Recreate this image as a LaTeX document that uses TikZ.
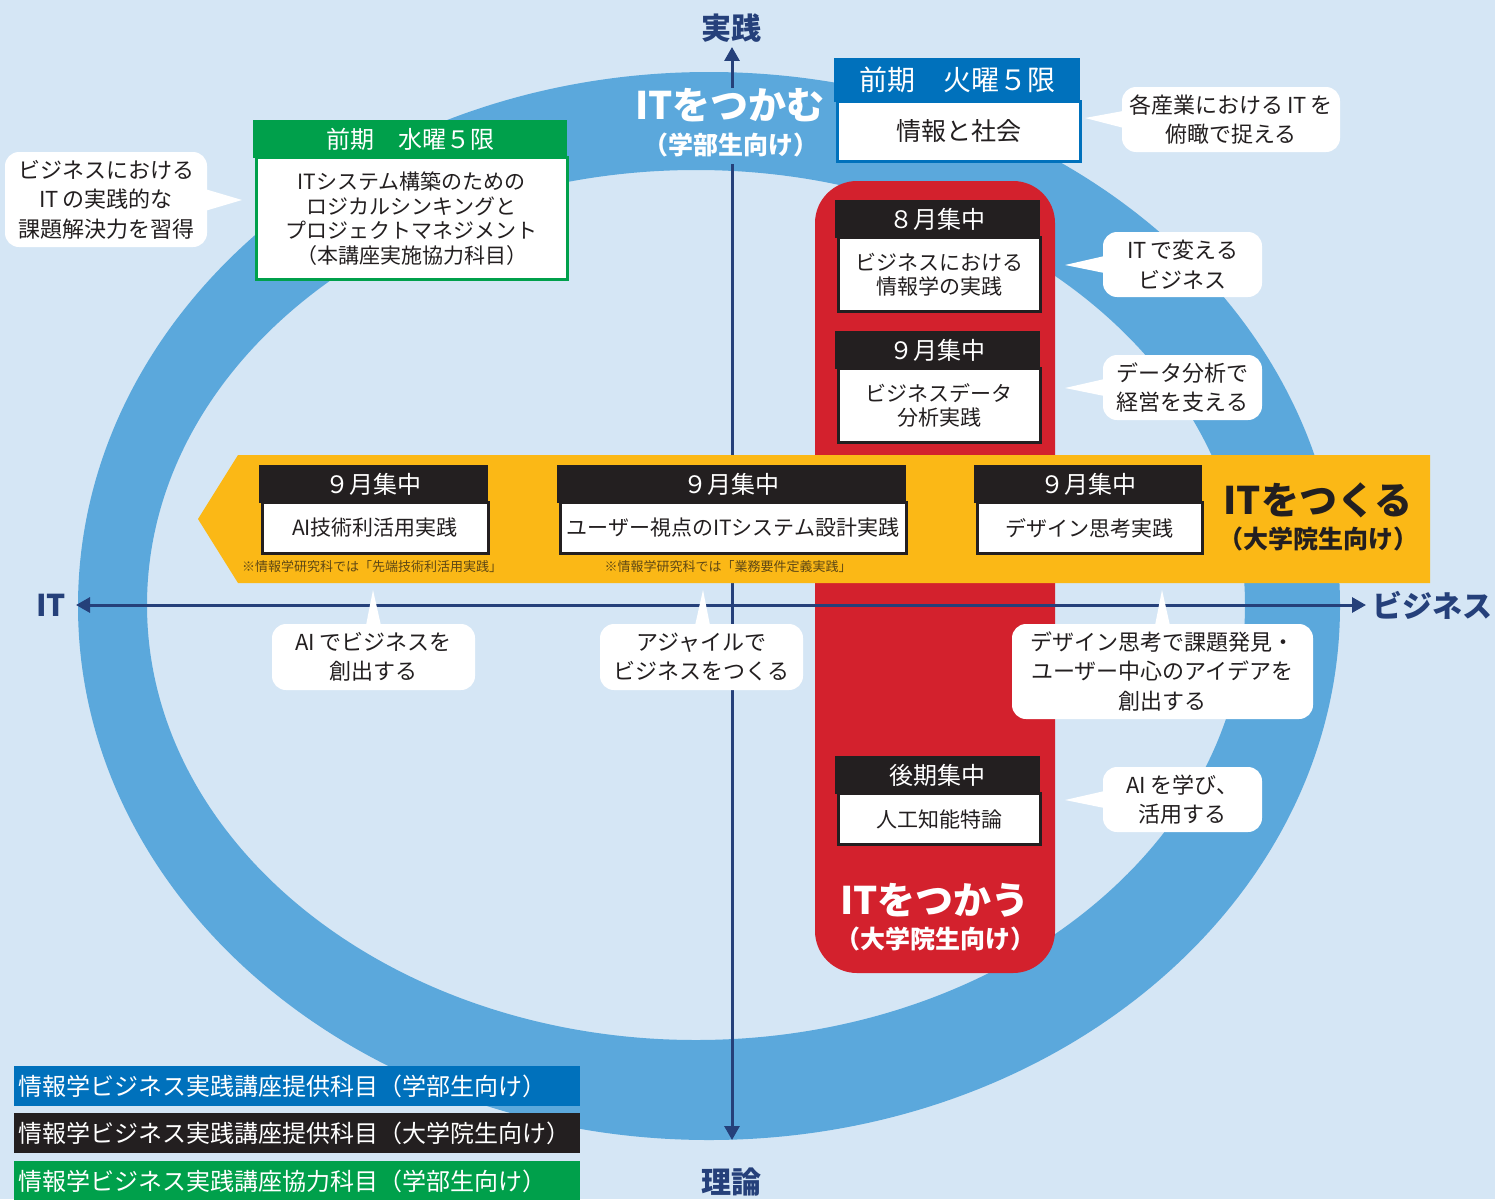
\documentclass[tikz,border=0pt]{standalone}
\usepackage{fontspec}
\setmainfont{Noto Sans CJK JP}
\usetikzlibrary{calc,arrows.meta}
\definecolor{bgc}{RGB}{213,230,245}
\definecolor{ringc}{RGB}{91,168,220}
\definecolor{navy}{RGB}{37,64,122}
\definecolor{redc}{RGB}{211,33,45}
\definecolor{yel}{RGB}{251,184,22}
\definecolor{blk}{RGB}{35,31,32}
\definecolor{grn}{RGB}{0,160,75}
\definecolor{blu}{RGB}{0,113,188}
\definecolor{notec}{RGB}{95,72,20}
\newcommand{\jfs}[2]{\fontsize{#1}{#2}\selectfont}
\newcommand{\gp}{\hspace{4pt}}
\tikzset{
  axisline/.style={navy, line width=3pt, {Triangle[length=14pt,width=15pt]}-{Triangle[length=14pt,width=15pt]}},
  axlabel/.style={navy, font=\jfs{30}{34}\bfseries, inner sep=0pt},
  hdr/.style={fill=#1, text=white, inner sep=0pt, font=\jfs{24}{28}},
  bodybox/.style={fill=white, draw=#1, line width=3pt, text=blk, inner sep=0pt, align=center, font=\jfs{21}{24.5}},
  callout/.style={fill=white, rounded corners=14pt, text=blk, inner sep=0pt, align=center, font=\jfs{22}{29.5}},
  ptr/.style={fill=white},
  bigw/.style={text=white, font=\jfs{38}{40}\bfseries, inner sep=0pt},
  subw/.style={text=white, font=\jfs{25}{28}\bfseries, inner sep=0pt},
  note/.style={text=notec, font=\jfs{13}{15}, inner sep=0pt},
  legend/.style={fill=#1, text=white, inner sep=4pt, text width=558pt, align=left, minimum height=40pt, anchor=west, font=\jfs{24}{26}}
}
\begin{document}
\begin{tikzpicture}[x=1pt,y=-1pt]
\useasboundingbox (0,0) rectangle (1495,1199);
\fill[bgc] (0,0) rectangle (1495,1199);
% ring
\fill[ringc, even odd rule] (709,606) ellipse [x radius=631, y radius=534] (696,605) ellipse [x radius=549, y radius=435];
% red bar
\fill[redc, rounded corners=42pt] (815,181) rectangle (1055,973);
% axes
\coordinate (vtop) at (732,47);
\coordinate (vbot) at (732,1140);
\coordinate (hleft) at (76,605);
\coordinate (hright) at (1366,605);
\draw[axisline] (vtop) -- (vbot);
\draw[axisline] (hleft) -- (hright);
\node[axlabel] (jissen) at (731,28) {実践};
\node[axlabel] (riron) at (731,1182) {理論};
\node[axlabel] (itlab) at (51,605) {IT};
\node[axlabel] (bizlab) at (1432,605) {ビジネス};
% IT tsukamu label on ring
\node[fill=ringc, inner sep=3pt, minimum width=186pt, minimum height=76pt] (tsukamubg) at (730,126) {};
\node[bigw] (tsukamu) at (730,105) {ITをつかむ};
\node[subw] (tsukamusub) at (731,145) {（学部生向け）};
% yellow band
\fill[yel] (238,455) -- (1430,455) -- (1430,583) -- (238,583) -- (198,519) -- cycle;
\node[note] (note1) at (372,567) {※情報学研究科では「先端技術利活用実践」};
\node[note] (note2) at (728,567) {※情報学研究科では「業務要件定義実践」};
\node[text=blk, font=\jfs{38}{40}\bfseries, inner sep=0pt] (tsukuru) at (1318,500) {ITをつくる};
\node[text=blk, font=\jfs{25}{28}\bfseries, inner sep=0pt] (tsukurusub) at (1318,539) {（大学院生向け）};
% IT tsukau label
\node[bigw] (tsukau) at (935,900) {ITをつかう};
\node[subw] (tsukausub) at (935,939) {（大学院生向け）};
% blue box
\node[bodybox=blu, minimum width=243pt, minimum height=60pt, anchor=north west, font=\jfs{25}{28}] (bjb) at (835.5,100) {情報と社会};
\node[hdr=blu, minimum width=246pt, minimum height=44pt, anchor=north west, font=\jfs{28}{30}] (bjh) at (834,58) {前期　火曜５限};
% green box
\node[bodybox=grn, minimum width=311pt, minimum height=122pt, anchor=north west] (gb) at (254.5,156) {ITシステム構築のための\\ロジカルシンキングと\\プロジェクトマネジメント\\（本講座実施協力科目）};
\node[hdr=grn, minimum width=314pt, minimum height=38pt, anchor=north west] (gh) at (253,120) {前期　水曜５限};
% black boxes on red
\node[bodybox=blk, minimum width=202pt, minimum height=74pt, anchor=north west] (b1) at (836.5,236) {ビジネスにおける\\情報学の実践};
\node[hdr=blk, minimum width=205pt, minimum height=38pt, anchor=north west] (h1) at (835,200) {８月集中};
\node[bodybox=blk, minimum width=202pt, minimum height=74pt, anchor=north west] (b2) at (836.5,367) {ビジネスデータ\\分析実践};
\node[hdr=blk, minimum width=205pt, minimum height=38pt, anchor=north west] (h2) at (835,331) {９月集中};
\node[bodybox=blk, minimum width=202pt, minimum height=51pt, anchor=north west] (b3) at (836.5,792) {人工知能特論};
\node[hdr=blk, minimum width=205pt, minimum height=38pt, anchor=north west] (h3) at (835,756) {後期集中};
% black boxes on yellow
\node[bodybox=blk, minimum width=226pt, minimum height=51pt, anchor=north west] (b4) at (260.5,501) {AI技術利活用実践};
\node[hdr=blk, minimum width=229pt, minimum height=38pt, anchor=north west] (h4) at (259,465) {９月集中};
\node[bodybox=blk, minimum width=346pt, minimum height=51pt, anchor=north west] (b5) at (558.5,501) {ユーザー視点のITシステム設計実践};
\node[hdr=blk, minimum width=349pt, minimum height=38pt, anchor=north west] (h5) at (557,465) {９月集中};
\node[bodybox=blk, minimum width=225pt, minimum height=51pt, anchor=north west] (b6) at (975.5,501) {デザイン思考実践};
\node[hdr=blk, minimum width=228pt, minimum height=38pt, anchor=north west] (h6) at (974,465) {９月集中};
% callouts
\coordinate (t1) at (242,200);
\coordinate (t2) at (1085,118);
\coordinate (t3) at (1065,265);
\coordinate (t4) at (1065,388);
\coordinate (t5) at (1065,800);
\coordinate (t6) at (373,590);
\coordinate (t7) at (703,590);
\coordinate (t8) at (1162,590);
\node[callout, minimum width=202pt, minimum height=95pt] (c1) at (106,199.5) {ビジネスにおける\\IT\gp の実践的な\\課題解決力を習得};
\fill[ptr] ($(c1.east)+(-4,-11)$) -- (t1) -- ($(c1.east)+(-4,12)$) -- cycle;
\node[callout, minimum width=218pt, minimum height=65pt] (c2) at (1231,119.5) {各産業における\gp IT\gp を\\俯瞰で捉える};
\fill[ptr] ($(c2.west)+(4,-9)$) -- (t2) -- ($(c2.west)+(4,9)$) -- cycle;
\node[callout, minimum width=159pt, minimum height=65pt] (c3) at (1182.5,264.5) {IT\gp で変える\\ビジネス};
\fill[ptr] ($(c3.west)+(4,-9)$) -- (t3) -- ($(c3.west)+(4,9)$) -- cycle;
\node[callout, minimum width=159pt, minimum height=65pt] (c4) at (1182.5,387.5) {データ分析で\\経営を支える};
\fill[ptr] ($(c4.west)+(4,-9)$) -- (t4) -- ($(c4.west)+(4,9)$) -- cycle;
\node[callout, minimum width=159pt, minimum height=65pt] (c5) at (1182.5,799.5) {AI\gp を学び、\\活用する};
\fill[ptr] ($(c5.west)+(4,-9)$) -- (t5) -- ($(c5.west)+(4,9)$) -- cycle;
\node[callout, minimum width=203pt, minimum height=66pt] (c6) at (373.5,657) {AI\gp でビジネスを\\創出する};
\fill[ptr] ($(c6.north)+(-8,4)$) -- (t6) -- ($(c6.north)+(8,4)$) -- cycle;
\node[callout, minimum width=203pt, minimum height=66pt] (c7) at (701.5,657) {アジャイルで\\ビジネスをつくる};
\fill[ptr] ($(c7.north)+(-7,4)$) -- (t7) -- ($(c7.north)+(9,4)$) -- cycle;
\node[callout, minimum width=301pt, minimum height=95pt] (c8) at (1162.5,671.5) {デザイン思考で課題発見・\\ユーザー中心のアイデアを\\創出する};
\fill[ptr] ($(c8.north)+(-8,4)$) -- (t8) -- ($(c8.north)+(8,4)$) -- cycle;
% legend
\node[legend=blu] (l1) at (14,1086) {情報学ビジネス実践講座提供科目（学部生向け）};
\node[legend=blk] (l2) at (14,1133) {情報学ビジネス実践講座提供科目（大学院生向け）};
\node[legend=grn] (l3) at (14,1181) {情報学ビジネス実践講座協力科目（学部生向け）};
\end{tikzpicture}
\end{document}
